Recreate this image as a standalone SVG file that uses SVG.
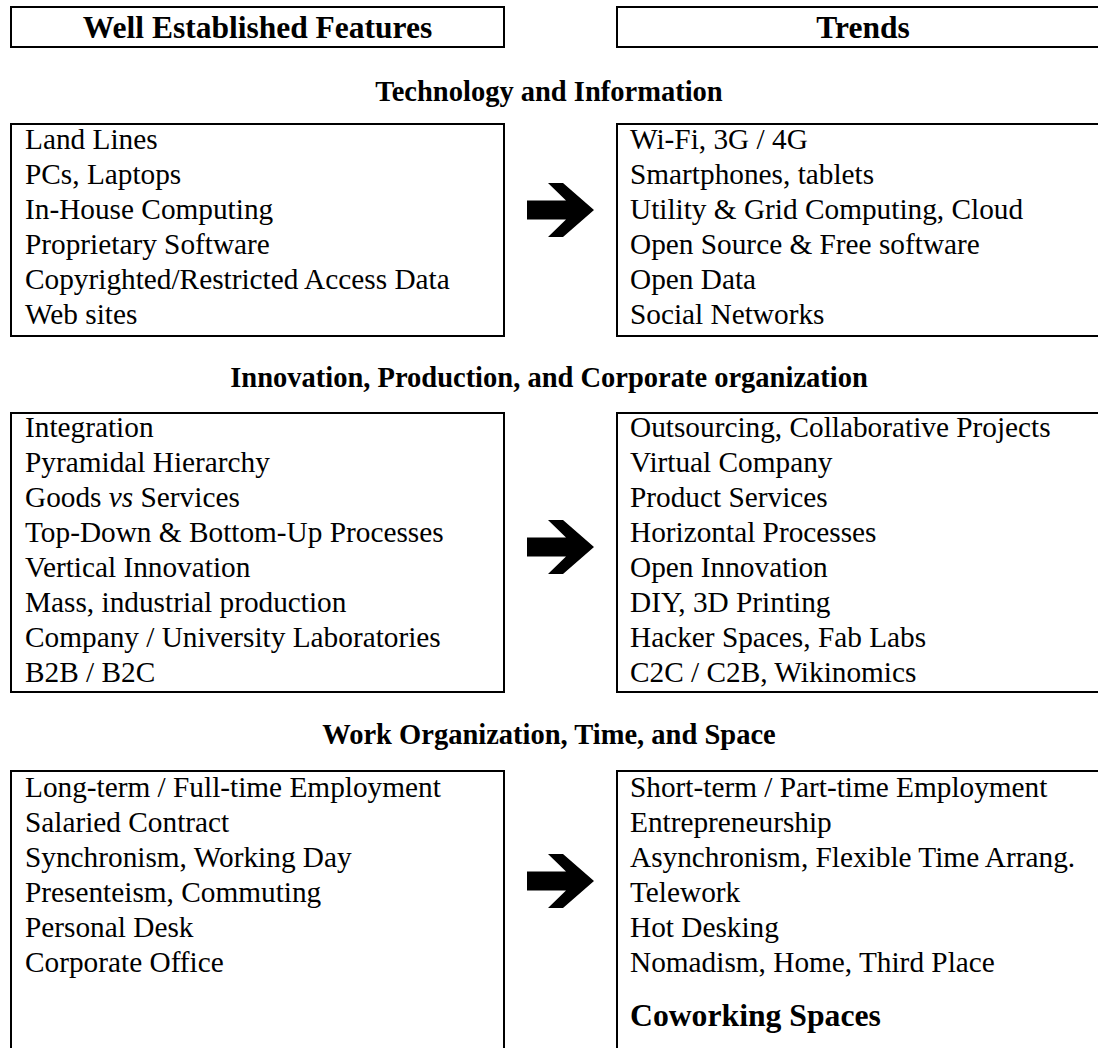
<svg xmlns="http://www.w3.org/2000/svg" xmlns:xlink="http://www.w3.org/1999/xlink" width="1098" height="1048" viewBox="0 0 1098 1048">
<style>
.box{fill:#fff;stroke:#000;stroke-width:2}
.t{font-family:"Liberation Serif","Times New Roman",serif;font-size:29.3px;fill:#000}
.hd{font-family:"Liberation Serif","Times New Roman",serif;font-size:31.5px;font-weight:bold;fill:#000;text-anchor:middle}
.sec{font-family:"Liberation Serif","Times New Roman",serif;font-size:28.5px;font-weight:bold;fill:#000;text-anchor:middle}
.big{font-family:"Liberation Serif","Times New Roman",serif;font-size:31.7px;font-weight:bold;fill:#000}
</style>
<defs>
<path id="arr" d="M527,-9.5 L566,-9.5 L548,-27 L563,-27 L594,0 L563,27 L548,27 L566,9.5 L527,9.5 Z" fill="#000"/>
</defs>
<rect width="1098" height="1048" fill="#fff"/>

<g id="header-established">
<rect class="box" x="11" y="7" width="493" height="40"/>
<text class="hd" x="257.5" y="38">Well Established Features</text>
</g>
<g id="header-trends">
<rect class="box" x="617" y="7" width="495" height="40"/>
<text class="hd" x="863" y="38">Trends</text>
</g>

<g id="title-tech"><text class="sec" x="549" y="101">Technology and Information</text></g>
<g id="title-innov"><text class="sec" x="549" y="387">Innovation, Production, and Corporate organization</text></g>
<g id="title-work"><text class="sec" x="549" y="744">Work Organization, Time, and Space</text></g>

<g id="tech-established">
<rect class="box" x="11" y="124" width="493" height="212"/>
<text class="t" x="25" y="149">Land Lines</text>
<text class="t" x="25" y="184">PCs, Laptops</text>
<text class="t" x="25" y="219">In-House Computing</text>
<text class="t" x="25" y="254">Proprietary Software</text>
<text class="t" x="25" y="289">Copyrighted/Restricted Access Data</text>
<text class="t" x="25" y="324">Web sites</text>
</g>
<g id="tech-trends">
<rect class="box" x="617" y="124" width="495" height="212"/>
<text class="t" x="630" y="149">Wi-Fi, 3G / 4G</text>
<text class="t" x="630" y="184">Smartphones, tablets</text>
<text class="t" x="630" y="219">Utility &amp; Grid Computing, Cloud</text>
<text class="t" x="630" y="254">Open Source &amp; Free software</text>
<text class="t" x="630" y="289">Open Data</text>
<text class="t" x="630" y="324">Social Networks</text>
</g>

<g id="innov-established">
<rect class="box" x="11" y="413" width="493" height="279"/>
<text class="t" x="25" y="437">Integration</text>
<text class="t" x="25" y="472">Pyramidal Hierarchy</text>
<text class="t" x="25" y="507">Goods <tspan font-style="italic">vs</tspan> Services</text>
<text class="t" x="25" y="542">Top-Down &amp; Bottom-Up Processes</text>
<text class="t" x="25" y="577">Vertical Innovation</text>
<text class="t" x="25" y="612">Mass, industrial production</text>
<text class="t" x="25" y="647">Company / University Laboratories</text>
<text class="t" x="25" y="682">B2B / B2C</text>
</g>
<g id="innov-trends">
<rect class="box" x="617" y="413" width="495" height="279"/>
<text class="t" x="630" y="437">Outsourcing, Collaborative Projects</text>
<text class="t" x="630" y="472">Virtual Company</text>
<text class="t" x="630" y="507">Product Services</text>
<text class="t" x="630" y="542">Horizontal Processes</text>
<text class="t" x="630" y="577">Open Innovation</text>
<text class="t" x="630" y="612">DIY, 3D Printing</text>
<text class="t" x="630" y="647">Hacker Spaces, Fab Labs</text>
<text class="t" x="630" y="682">C2C / C2B, Wikinomics</text>
</g>

<g id="work-established">
<rect class="box" x="11" y="771" width="493" height="300"/>
<text class="t" x="25" y="797">Long-term / Full-time Employment</text>
<text class="t" x="25" y="832">Salaried Contract</text>
<text class="t" x="25" y="867">Synchronism, Working Day</text>
<text class="t" x="25" y="902">Presenteism, Commuting</text>
<text class="t" x="25" y="937">Personal Desk</text>
<text class="t" x="25" y="972">Corporate Office</text>
</g>
<g id="work-trends">
<rect class="box" x="617" y="771" width="495" height="300"/>
<text class="t" x="630" y="797">Short-term / Part-time Employment</text>
<text class="t" x="630" y="832">Entrepreneurship</text>
<text class="t" x="630" y="867">Asynchronism, Flexible Time Arrang.</text>
<text class="t" x="630" y="902">Telework</text>
<text class="t" x="630" y="937">Hot Desking</text>
<text class="t" x="630" y="972">Nomadism, Home, Third Place</text>
<text class="big" x="630" y="1026">Coworking Spaces</text>
</g>

<g id="connectors">
<use xlink:href="#arr" href="#arr" transform="translate(0,210)"/>
<use xlink:href="#arr" href="#arr" transform="translate(0,547)"/>
<use xlink:href="#arr" href="#arr" transform="translate(0,881)"/>
</g>
</svg>
